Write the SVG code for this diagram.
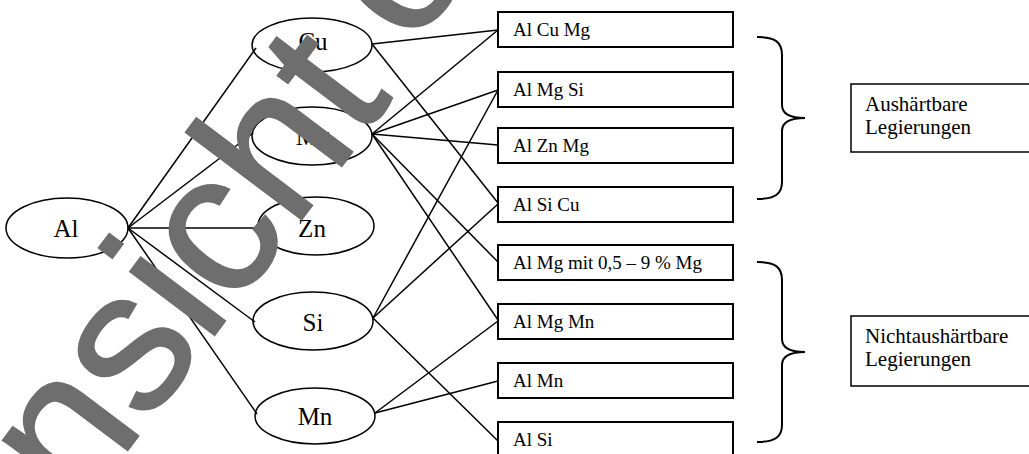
<svg xmlns="http://www.w3.org/2000/svg" width="1029" height="454" viewBox="0 0 1029 454">
  <style>
    .ell { fill: none; stroke: #000; stroke-width: 1.5; }
    .box { fill: #fff; stroke: #000; stroke-width: 2; }
    .lbl { fill: #fff; stroke: #000; stroke-width: 1.5; }
    .el-t { font-family: "Liberation Serif", "Times New Roman", serif; font-size: 25px; fill: #000; text-anchor: middle; }
    .bx-t { font-family: "Liberation Serif", "Times New Roman", serif; font-size: 19px; fill: #000; }
    .lb-t { font-family: "Liberation Serif", "Times New Roman", serif; font-size: 21px; fill: #000; }
    .conn line { stroke: #000; stroke-width: 1.5; }
    .brace { fill: none; stroke: #000; stroke-width: 2; }
    .wm { font-family: "Liberation Sans", Arial, sans-serif; font-size: 200px; fill: #6e6e6e; stroke: #6e6e6e; stroke-width: 2; }
  </style>
  <rect width="1029" height="454" fill="#fff"/>

  <!-- connectors -->
  <g id="connectors" class="conn">
    <line x1="128" y1="228" x2="256" y2="48"/>
    <line x1="128" y1="228" x2="253" y2="133"/>
    <line x1="128" y1="228" x2="258" y2="228"/>
    <line x1="128" y1="228" x2="255" y2="322"/>
    <line x1="128" y1="228" x2="257" y2="414"/>
    <line x1="372" y1="44" x2="498" y2="30"/>
    <line x1="372" y1="44" x2="498" y2="203"/>
    <line x1="372" y1="134" x2="498" y2="30"/>
    <line x1="372" y1="134" x2="498" y2="90"/>
    <line x1="372" y1="134" x2="498" y2="145"/>
    <line x1="372" y1="134" x2="498" y2="262"/>
    <line x1="372" y1="134" x2="498" y2="320"/>
    <line x1="373" y1="318" x2="498" y2="90"/>
    <line x1="373" y1="318" x2="498" y2="204"/>
    <line x1="373" y1="318" x2="498" y2="441"/>
    <line x1="375" y1="413" x2="498" y2="321"/>
    <line x1="375" y1="413" x2="498" y2="381"/>
  </g>

  <!-- element nodes -->
  <g id="node-al"><ellipse class="ell" cx="67" cy="228" rx="61" ry="30"/><text class="el-t" x="66" y="237">Al</text></g>
  <g id="node-cu"><ellipse class="ell" cx="312" cy="45" rx="60" ry="27"/><text class="el-t" x="313" y="50">Cu</text></g>
  <g id="node-mg"><ellipse class="ell" cx="312" cy="136" rx="60" ry="29"/><text class="el-t" x="313" y="145">Mg</text></g>
  <g id="node-zn"><ellipse class="ell" cx="316" cy="226" rx="58" ry="29"/><text class="el-t" x="312" y="237">Zn</text></g>
  <g id="node-si"><ellipse class="ell" cx="313" cy="321" rx="60" ry="29"/><text class="el-t" x="313" y="331">Si</text></g>
  <g id="node-mn"><ellipse class="ell" cx="315" cy="416" rx="60" ry="28"/><text class="el-t" x="315" y="425">Mn</text></g>

  <!-- alloy nodes -->
  <g id="alloy-alcumg"><rect class="box" x="498" y="12" width="235" height="35"/><text class="bx-t" x="513" y="36">Al Cu Mg</text></g>
  <g id="alloy-almgsi"><rect class="box" x="498" y="72" width="235" height="35"/><text class="bx-t" x="513" y="96">Al Mg Si</text></g>
  <g id="alloy-alznmg"><rect class="box" x="498" y="128" width="235" height="35"/><text class="bx-t" x="513" y="152">Al Zn Mg</text></g>
  <g id="alloy-alsicu"><rect class="box" x="498" y="187" width="235" height="35"/><text class="bx-t" x="513" y="211">Al Si Cu</text></g>
  <g id="alloy-almg"><rect class="box" x="498" y="245" width="235" height="35"/><text class="bx-t" x="513" y="269">Al Mg mit 0,5 – 9 % Mg</text></g>
  <g id="alloy-almgmn"><rect class="box" x="498" y="304" width="235" height="35"/><text class="bx-t" x="513" y="328">Al Mg Mn</text></g>
  <g id="alloy-almn"><rect class="box" x="498" y="363" width="235" height="35"/><text class="bx-t" x="513" y="387">Al Mn</text></g>
  <g id="alloy-alsi"><rect class="box" x="498" y="422" width="235" height="35"/><text class="bx-t" x="513" y="446">Al Si</text></g>

  <!-- group braces and labels -->
  <g id="group-hardenable">
    <path class="brace" d="M757,37 C775,37 782,42 782,55 L782,105 C782,114 790,118 805,118 C790,118 782,122 782,131 L782,182 C782,194 775,199 757,199"/>
    <rect class="lbl" x="851" y="84" width="200" height="68"/>
    <text class="lb-t" x="865" y="111">Aushärtbare</text>
    <text class="lb-t" x="865" y="134">Legierungen</text>
  </g>
  <g id="group-nonhardenable">
    <path class="brace" d="M757,262 C775,262 782,267 782,280 L782,339 C782,348 790,352 805,352 C790,352 782,356 782,365 L782,425 C782,437 775,442 757,442"/>
    <rect class="lbl" x="851" y="316" width="200" height="70"/>
    <text class="lb-t" x="865" y="343">Nichtaushärtbare</text>
    <text class="lb-t" x="865" y="366">Legierungen</text>
  </g>

  <!-- watermark -->
  <g id="watermark">
    <text class="wm" transform="translate(-1,621) rotate(-53)">Ansicht <tspan dx="-7" dy="-14">o</tspan></text>
  </g>
</svg>
